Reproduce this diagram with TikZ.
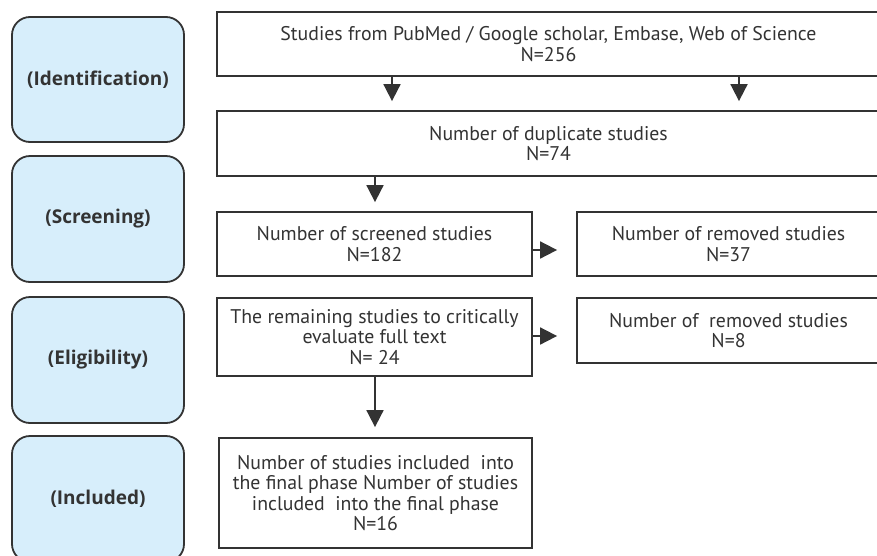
\documentclass[tikz,border=0pt]{standalone}
\usepackage{fontspec}
\setmainfont{PT Sans}
\newfontfamily\labelfont{Open Sans}
\usetikzlibrary{arrows.meta}
\definecolor{ink}{HTML}{333333}
\definecolor{phasefill}{HTML}{D7EEFB}
\tikzset{
  phase/.style={draw=ink, line width=1.8pt, fill=phasefill, rounded corners=18pt,
    minimum width=172pt, inner sep=0pt, text=ink, font=\labelfont\fontsize{19}{22}\selectfont\bfseries},
  stepbox/.style={draw=ink, line width=1.8pt, fill=white, inner sep=0pt, align=center,
    text=ink, font=\fontsize{19.8}{20.5}\selectfont},
  arr/.style={draw=ink, line width=1.8pt, -{Triangle[width=17pt,length=17pt]}}
}
\begin{document}
\begin{tikzpicture}[x=1pt,y=-1pt]
\useasboundingbox (0,0) rectangle (877,555);
\begin{scope}
\clip (0,0) rectangle (877,555);
% phase boxes
\node[phase, minimum height=125pt] (ident) at (98,79.5) {(Identification)};
\node[phase, minimum height=126pt] (screen) at (98,219) {(Screening)};
\node[phase, minimum height=126pt] (elig) at (98,360) {(Eligibility)};
\node[phase, minimum height=126pt] (incl) at (98,499) {(Included)};
% step boxes
\node[stepbox, minimum width=663pt, minimum height=64pt] (top) at (548.5,44)
  {Studies from PubMed / Google scholar, Embase, Web of Science\\N=256};
\node[stepbox, minimum width=663pt, minimum height=65pt] (dup) at (548.5,143.5)
  {Number of duplicate studies\\N=74};
\node[stepbox, minimum width=315pt, minimum height=64pt] (scr) at (374.5,244)
  {Number of screened studies\\N=182};
\node[stepbox, minimum width=303pt, minimum height=64pt] (rem1) at (728.5,244)
  {Number of removed studies\\N=37};
\node[stepbox, minimum width=315pt, minimum height=78pt] (remain) at (374.5,337)
  {The remaining studies to critically\\evaluate full text\\N= 24};
\node[stepbox, minimum width=303pt, minimum height=65pt] (rem2) at (728.5,330.5)
  {Number of\ \ removed studies\\N=8};
\node[stepbox, minimum width=313pt, minimum height=110pt] (inc) at (375.5,493)
  {Number of studies included\ \ into\\the final phase Number of studies\\included\ \ into the final phase\\N=16};
\end{scope}
% connectors
\coordinate (a1) at (392,0);
\coordinate (a2) at (739,0);
\coordinate (a3) at (375,0);
\coordinate (h1) at (0,250);
\coordinate (h2) at (0,336);
\draw[arr, shorten >=9pt] (top.south -| a1) -- (dup.north -| a1);
\draw[arr, shorten >=9pt] (top.south -| a2) -- (dup.north -| a2);
\draw[arr, shorten >=9pt] (dup.south -| a3) -- (scr.north -| a3);
\draw[arr, shorten >=19pt] (scr.east |- h1) -- (rem1.west |- h1);
\draw[arr, shorten >=19pt] (remain.east |- h2) -- (rem2.west |- h2);
\draw[arr, shorten >=10pt] (remain.south -| a3) -- (inc.north -| a3);
\end{tikzpicture}
\end{document}
